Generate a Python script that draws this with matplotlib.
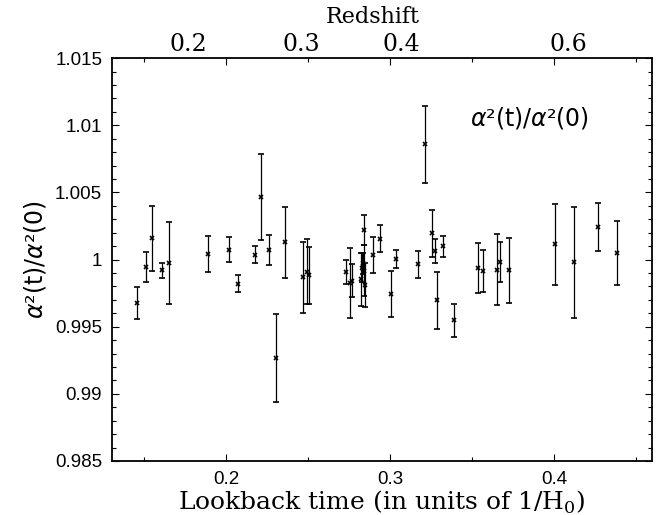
import matplotlib
matplotlib.use('Agg')
import matplotlib.pyplot as plt
from matplotlib.ticker import MultipleLocator, FormatStrFormatter
import matplotlib.transforms as mtransforms

plt.rcParams['mathtext.fontset'] = 'custom'
plt.rcParams['mathtext.it'] = 'DejaVu Sans:italic'
plt.rcParams['mathtext.rm'] = 'DejaVu Serif'

# lookback time (1/H0), alpha^2(t)/alpha^2(0), 1-sigma error
lookback = [0.1459, 0.1514, 0.1547, 0.1610, 0.1652, 0.1890, 0.2018, 0.2071,
            0.2177, 0.2213, 0.2264, 0.2307, 0.2360, 0.2468, 0.2494, 0.2504,
            0.2730, 0.2756, 0.2768, 0.2823, 0.2829, 0.2835, 0.2841, 0.2841,
            0.2848, 0.2894, 0.2937, 0.3004, 0.3035, 0.3173, 0.3211, 0.3258,
            0.3276, 0.3285, 0.3321, 0.3388, 0.3535, 0.3565, 0.3651, 0.3671,
            0.3728, 0.4004, 0.4120, 0.4266, 0.4382]
ratio = [0.99679, 0.99946, 1.00158, 0.99922, 0.99976, 1.00041, 1.00073, 0.99820,
         1.00036, 1.00465, 1.00073, 0.99267, 1.00128, 0.99867, 0.99909, 0.99882,
         0.99907, 0.99824, 0.99844, 0.99853, 0.99939, 0.99972, 1.00220, 0.99917,
         0.99810, 1.00034, 1.00155, 0.99743, 1.00001, 0.99964, 1.00858, 1.00197,
         1.00063, 0.99696, 1.00098, 0.99547, 0.99939, 0.99914, 0.99924, 0.99981,
         0.99920, 1.00113, 0.99979, 1.00244, 1.00048]
ratio_err = [0.00119, 0.00113, 0.00242, 0.00056, 0.00305, 0.00136, 0.00092, 0.00062,
             0.00062, 0.00321, 0.00113, 0.00330, 0.00263, 0.00263, 0.00243, 0.00210,
             0.00089, 0.00262, 0.00121, 0.00196, 0.00108, 0.00080, 0.00115, 0.00190,
             0.00166, 0.00135, 0.00099, 0.00170, 0.00067, 0.00099, 0.00288, 0.00175,
             0.00091, 0.00212, 0.00077, 0.00124, 0.00185, 0.00155, 0.00264, 0.00151,
             0.00242, 0.00299, 0.00415, 0.00181, 0.00237]

# redshift labels on the top axis, placed at their lookback times
redshift_labels = ['0.2', '0.3', '0.4', '0.6']
redshift_at = [0.177, 0.246, 0.307, 0.409]

fig = plt.figure(figsize=(6.62, 5.15), dpi=100)
ax = fig.add_axes([0.169, 0.105, 0.816, 0.782])

ax.errorbar(lookback, ratio, yerr=ratio_err, fmt='x', color='black',
            ms=3.0, mew=1.2, elinewidth=0.9, capsize=2.0, capthick=0.9)

ax.set_xlim(0.1305, 0.4598)
ax.set_ylim(0.985, 1.015)

ax.xaxis.set_major_locator(MultipleLocator(0.1))
ax.xaxis.set_minor_locator(MultipleLocator(0.05))
ax.yaxis.set_major_locator(MultipleLocator(0.005))
ax.yaxis.set_minor_locator(MultipleLocator(0.001))
ax.xaxis.set_major_formatter(FormatStrFormatter('%g'))
ax.yaxis.set_major_formatter(FormatStrFormatter('%g'))

ax.tick_params(which='both', direction='in', top=True, right=True, width=0.8)
ax.tick_params(which='major', length=5, labelsize=13.5, pad=7)
ax.tick_params(which='minor', length=2.8)
for lab in ax.get_xticklabels() + ax.get_yticklabels():
    lab.set_family('Liberation Sans')
for sp in ax.spines.values():
    sp.set_linewidth(1.3)

label = r'$\alpha$²(t)/$\alpha$²(0)'
ax.set_xlabel('Lookback time (in units of 1/H$_0$)', family='DejaVu Serif',
              fontsize=18, labelpad=1)
ax.set_ylabel(label, family='DejaVu Sans', fontsize=17, labelpad=5)

# redshift scale along the top
trans = mtransforms.blended_transform_factory(ax.transData, ax.transAxes)
for z, tz in zip(redshift_labels, redshift_at):
    ax.text(tz, 1.006, z, transform=trans, ha='center', va='bottom',
            family='DejaVu Serif', fontsize=17)
ax.text(0.2896, 1.075, 'Redshift', transform=trans, ha='center',
        va='bottom', family='DejaVu Serif', fontsize=16)

ax.text(0.774, 0.851, label, transform=ax.transAxes,
        ha='center', va='center', family='DejaVu Sans', fontsize=17)

fig.savefig('out.png', dpi=100)
